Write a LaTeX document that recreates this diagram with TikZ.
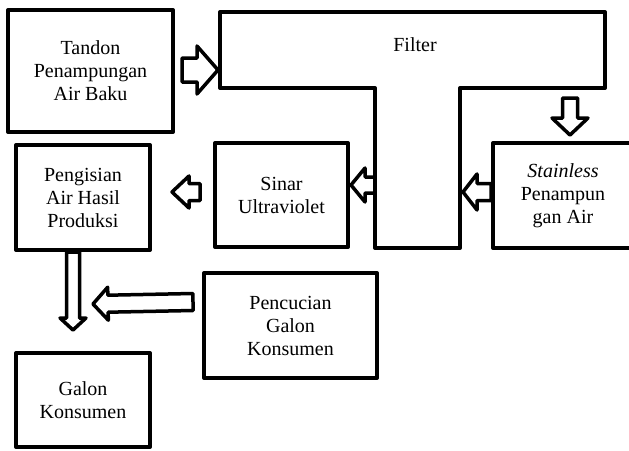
\documentclass[tikz,border=0pt]{standalone}
\usepackage{fontspec}
\setmainfont{Liberation Serif}
\usetikzlibrary{calc}
\tikzset{
  box/.style 2 args={draw, line width=4pt, line join=round, minimum width=#1,
    minimum height=#2, inner sep=0pt, align=center,
    font=\fontsize{20}{23}\selectfont},
  hollow/.style n args={3}{draw, line width=3.5pt, line join=round,
    to path={let \p1=(\tikztostart), \p2=(\tikztotarget),
      \n1={atan2(\y2-\y1,\x2-\x1)}, \n2={veclen(\x2-\x1,\y2-\y1)} in
      {[shift={(\p1)}, rotate=\n1]
        (0,-#1) -- (\n2-#3,-#1) -- (\n2-#3,-#2) -- (\n2,0)
        -- (\n2-#3,#2) -- (\n2-#3,#1) -- (0,#1) -- cycle}}}
}
\begin{document}
\begin{tikzpicture}[x=1pt, y=-1pt]
  \useasboundingbox (0,0) rectangle (629,450);
  \clip (0,0) rectangle (629,450);
  % boxes
  \node[box={165pt}{122pt}] (tandon) at (90.5,71) {Tandon\\Penampungan\\Air Baku};
  \node[box={140pt}{105pt}] (stainless) at (563,195.5) {\textit{Stainless}\\Penampun\\gan Air};
  \node[box={133pt}{104pt}] (sinar) at (281.5,195) {Sinar\\Ultraviolet};
  \node[box={134pt}{105pt}] (pengisian) at (83,197.5) {Pengisian\\Air Hasil\\Produksi};
  \node[box={173pt}{105pt}] (pencucian) at (290.5,325.5) {Pencucian\\Galon\\Konsumen};
  \node[box={134pt}{94pt}] (galon) at (83,400) {Galon\\Konsumen};
  % filter
  \coordinate (fL) at (220,88);
  \coordinate (fR) at (605,88);
  \coordinate (sL) at (375,248);
  \coordinate (sR) at (460,248);
  \draw[line width=4pt, line join=round]
    (220,12) -- (605,12) -- (fR) -- (sR |- fR) -- (sR) -- (sL) -- (sL |- fL) -- (fL) -- cycle;
  \node[font=\fontsize{20}{23}\selectfont] (filter) at (415,45) {Filter};
  % arrows
  \begin{scope}
    \draw[hollow={12}{24}{21}] ($(tandon.east)+(7,-1)$) to ($(tandon.east -| fL)+(-2,-1)$);
    \draw[hollow={7.5}{18}{17}] ($(fR -| stainless.north)+(7,10)$) to ($(stainless.north)+(7,-6)$);
    \draw[hollow={8.5}{18}{14}] ($(stainless.west)+(0,-3.5)$) to ($(stainless.west -| sR)+(3,-3.5)$);
    \draw[hollow={8}{17}{14}] ($(sinar.east -| sL)+(0,-10)$) to ($(sinar.east)+(1,-10)$);
    \draw[hollow={8.5}{16}{17}] ($(sinar.west)+(-13,-3)$) to ($(pengisian.east)+(20,-5.5)$);
    \draw[hollow={6.5}{13}{12}] ($(pengisian.south)+(-10,0)$) to ($(galon.north)+(-10,-21)$);
    \draw[hollow={8.5}{16.5}{15}] ($(pencucian.west)+(-9,-23.5)$) to ($(pengisian.south)+(10,52)$);
  \end{scope}
\end{tikzpicture}
\end{document}
